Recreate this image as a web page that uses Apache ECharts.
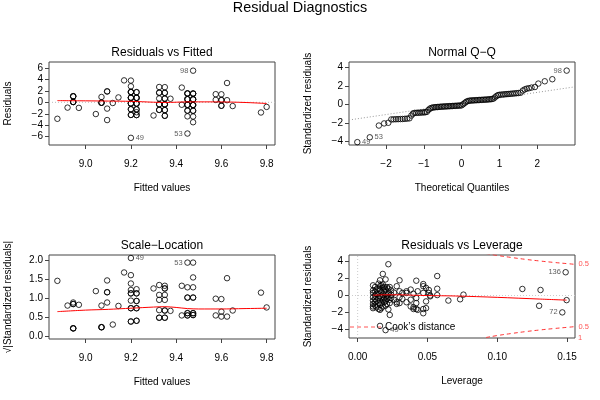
<!DOCTYPE html>
<html><head><meta charset="utf-8">
<script src="https://cdn.jsdelivr.net/npm/echarts@6/dist/echarts.min.js"></script>
<style>html,body{margin:0;padding:0;background:#fff}#c{width:600px;height:400px}</style>
</head><body><div id="c"></div>
<script>
// ---------- Panel 1: Residuals vs Fitted ----------
const rvfLevels = [8.875, 8.92, 8.945, 8.97, 9.045, 9.07, 9.095, 9.12, 9.145, 9.17, 9.2, 9.225, 9.3, 9.325, 9.35, 9.375, 9.425, 9.45, 9.475, 9.575, 9.6, 9.625, 9.65, 9.775, 9.8];
const rvfResid = [
  [-2.875], [-0.92], [1.055,1.055,1.055,0.055,0.055,0.055], [-0.97], [-2.045],
  [0.93,-0.07,-0.07,-0.07], [1.905,1.905,-1.095,-3.095], [-0.12], [0.855], [3.83],
  [3.8,2.8,1.8,1.8,1.8,0.8,0.8,0.8,-0.2,-0.2,-0.2,-1.2,-1.2,-2.2,-2.2,-6.2],
  [1.775,1.775,0.775,0.775,0.775,-0.225,-0.225,-0.225,-1.225,-1.225,-1.725,-2.225,-2.225],
  [-2.3], [2.675,1.675,1.675,0.675,-0.325,-0.325,-1.325,-1.325],
  [2.65,1.65,1.65,0.65,0.65,-0.35,-0.35,-0.35,-1.35,-1.35,-2.35,-2.35],
  [0.625], [2.575,-0.425],
  [1.55,1.55,1.55,0.55,0.55,0.55,-0.45,-0.45,-0.45,-1.45,-1.45,-2.45,-5.45],
  [5.525,1.525,1.525,1.525,0.525,0.525,0.525,-0.475,-0.475,-0.475,-1.475,-1.475,-2.475,-3.475],
  [1.425,0.425], [1.4,0.4,0.4,-0.6,-0.6], [3.375,0.375], [-0.65], [-1.775], [-0.8]
];
const rvfIds = [['98',9.475,5.525,'left'],['49',9.2,-6.2,'right'],['53',9.45,-5.45,'left']];
const rvfSmoothX = [8.875, 9.0, 9.1, 9.2, 9.25, 9.3, 9.35, 9.4, 9.45, 9.5, 9.6, 9.7, 9.8];
const rvfSmoothY = [0.3, 0.26, 0.22, 0.17, 0.1, 0.02, -0.03, 0.02, 0.08, 0.08, 0.07, -0.02, -0.2];
const rvfXTicks = [9.0, 9.2, 9.4, 9.6, 9.8];
const rvfYTicks = [-6, -4, -2, 0, 2, 4, 6];

// ---------- Panel 2: Normal Q-Q ----------
const qqTheo = [-2.76,-2.43,-2.19,-2.05,-1.94,
  -1.86,-1.80,-1.74,-1.68,-1.62,-1.56,-1.50,-1.44,-1.38,-1.33,-1.29,
  -1.25,-1.20,-1.15,-1.10,-1.05,-1.00,-0.96,-0.92,-0.88,-0.84,-0.80,
  -0.76,-0.72,-0.68,-0.64,-0.60,-0.56,-0.52,-0.48,-0.44,-0.40,-0.36,-0.32,-0.28,-0.24,-0.20,-0.16,-0.12,-0.08,-0.04,0.00,
  0.04,0.08,0.12,0.16,
  0.20,0.24,0.28,0.32,0.36,0.40,0.44,0.48,0.52,0.56,0.60,0.64,0.68,0.72,0.76,0.80,0.84,
  0.88,0.92,0.96,
  1.00,1.05,1.10,1.15,1.20,1.25,1.30,1.35,1.40,1.45,1.50,1.56,
  1.62,1.67,1.72,1.78,1.85,1.94,2.03,2.20,2.40,2.78];
const qqSample = [-4.07,-3.55,-2.28,-2.05,-1.98,
  -1.62,-1.61,-1.60,-1.59,-1.58,-1.57,-1.55,-1.53,-1.50,-1.20,-1.00,
  -0.92,-0.91,-0.90,-0.89,-0.87,-0.86,-0.84,-0.80,-0.60,-0.45,-0.38,
  -0.33,-0.31,-0.29,-0.28,-0.27,-0.25,-0.24,-0.23,-0.22,-0.21,-0.20,-0.19,-0.18,-0.17,-0.16,-0.15,-0.14,-0.13,-0.12,-0.10,
  0.02,0.15,0.28,0.36,
  0.40,0.42,0.43,0.44,0.45,0.46,0.47,0.48,0.49,0.50,0.51,0.52,0.53,0.55,0.56,0.58,0.62,
  0.75,0.90,1.00,
  1.04,1.06,1.08,1.10,1.12,1.13,1.15,1.17,1.19,1.21,1.23,1.26,
  1.50,1.62,1.70,1.75,1.82,1.88,2.25,2.50,2.72,3.65];
const qqIds = [['49',-2.76,-4.07,'right'],['53',-2.43,-3.55,'right'],['98',2.78,3.65,'left']];
const qqLineX = [-2.98, 3.0];
const qqLineY = [-1.68, 1.9];
const qqXTicks = [-2, -1, 0, 1, 2];
const qqYTicks = [-4, -2, 0, 2, 4];

// ---------- Panel 3: Scale-Location ----------
const slLevels = rvfLevels;
const slValues = [
  [1.45], [0.8], [0.88,0.84,0.84,0.2,0.2,0.2], [0.82], [1.18],
  [0.8,0.23,0.23,0.23], [1.46,1.15,1.15,0.88], [0.3], [0.79], [1.67],
  [2.05,1.6,1.38,1.21,1.12,1.12,0.93,0.73,0.73,0.38,0.38],
  [1.23,1.12,1.12,0.92,0.92,0.73,0.73,0.4,0.4],
  [1.25], [1.34,1.08,0.95,0.68,0.48,0.48],
  [1.32,1.25,1.25,1.08,0.95,0.67,0.67,0.48,0.48],
  [0.66], [1.32,0.54],
  [1.93,1.28,1.01,1.01,0.6,0.6,0.54,0.54],
  [1.93,1.54,1.28,1.01,1.01,0.6,0.6,0.55,0.55],
  [0.98,0.54], [0.97,0.64,0.51], [1.52,0.51], [0.67], [1.14], [0.75]
];
const slIds = [['49',9.2,2.05,'right'],['53',9.45,1.93,'left']];
const slSmoothX = [8.875, 9.0, 9.1, 9.2, 9.3, 9.35, 9.4, 9.45, 9.5, 9.6, 9.7, 9.8];
const slSmoothY = [0.64, 0.68, 0.7, 0.73, 0.76, 0.77, 0.75, 0.72, 0.71, 0.71, 0.72, 0.73];
const slYTicks = [0, 0.5, 1.0, 1.5, 2.0];

// ---------- Panel 4: Residuals vs Leverage ----------
const levLevels = [0.011, 0.0125, 0.0135, 0.015, 0.016, 0.017, 0.018, 0.019, 0.020, 0.021, 0.022, 0.023, 0.024, 0.026, 0.028, 0.030, 0.032, 0.035, 0.038, 0.040, 0.042, 0.043, 0.047, 0.049, 0.051, 0.052, 0.057, 0.065, 0.0734, 0.0758, 0.118, 0.130, 0.131, 0.1466, 0.149, 0.1497];
const levStdRes = [
  [1.2,0.6,0.3,-0.2,-0.6,-1.0,-1.3,-1.5], [1.0,0.5,0.0,-0.4,-0.8,-1.2], [0.7,0.2,-0.6,-1.4],
  [1.4,0.8,0.2,-0.3,-0.9,-1.6], [1.8,1.1,0.6,-0.1,-0.6,-1.1,-1.7,-3.6], [1.2,0.4,-0.2,-0.9,-1.5],
  [2.55,1.3,0.9,0.1,-0.5,-1.3], [1.0,0.5,-0.3,-0.8], [1.9,0.7,0.2,-0.6,-1.2,-4.1],
  [1.0,0.0,-0.4,-1.0], [3.7,0.8,0.3,-0.2,-1.65], [1.0,-0.5,-0.9,-2.3], [0.6,0.1,-0.3],
  [0.35,-0.5], [1.1,-0.8,-1.0], [1.8,0.5,-0.2,-0.9], [0.3,-0.4], [0.5,0.3,-0.8],
  [0.7,-0.5,-1.3], [0.2,-1.4,-1.6], [1.75,-0.3,-0.9,-1.6], [0.5,-1.7], [1.35,1.1,0.3,-1.6,-2.1],
  [0.9,-0.7,-1.5], [0.65,0.3], [0.0,-0.1], [2.3,0.8,0.05], [-0.6], [-0.45], [0.1],
  [0.77], [-1.22], [0.65], [-2.0], [2.75], [-0.55]
];
const levIds = [['49',0.020,-4.1,'right'],['136',0.149,2.75,'left'],['72',0.1466,-2.0,'left']];
const levSmoothX = [0.011, 0.02, 0.03, 0.04, 0.05, 0.07, 0.1, 0.13, 0.1497];
const levSmoothY = [0.03, 0.08, 0.08, 0.03, -0.01, -0.06, -0.22, -0.42, -0.55];
const cookX = [0.092, 0.1, 0.11, 0.12, 0.13, 0.14, 0.15, 0.156];
const cookUpper = [4.97, 4.74, 4.5, 4.28, 4.09, 3.92, 3.77, 3.68];
const cookLower = [-4.97, -4.74, -4.5, -4.28, -4.09, -3.92, -3.77, -3.68];
const levXTicks = [0, 0.05, 0.10, 0.15];
const levYTicks = [-4, -2, 0, 2, 4];

// axis ranges
const rFitted = [8.838, 9.837], rResid = [-7.45, 7.04];
const rTheo = [-2.98, 3.0], rQQ = [-4.38, 4.58];
const rSL = [-0.08, 2.13];
const rLev = [-0.0062, 0.1557], rLevY = [-5.03, 4.79];

const FONT = '"Liberation Sans", Arial, Helvetica, sans-serif';
function fmt(v, d) { const s = Math.abs(v).toFixed(d); return v < -1e-9 ? '\u2212' + s : s; }
function pairs(levels, groups) { const out = []; levels.forEach((x, i) => groups[i].forEach(y => out.push([x, y]))); return out; }
function zip(xs, ys) { return xs.map((x, i) => [x, ys[i]]); }
function withIds(pts, ids) {
  return pts.map(p => {
    const id = ids.find(d => d[1] === p[0] && d[2] === p[1]);
    return id ? { value: p, label: { show: true, formatter: id[0], position: id[3], distance: 1.5,
      fontSize: 7.5, color: '#333', fontFamily: FONT } } : p;
  });
}
function xAx(gi, r, ticks, dec, name) {
  return { type: 'value', gridIndex: gi, min: r[0], max: r[1], name: name, nameLocation: 'middle', nameGap: 38.5,
    nameTextStyle: { fontFamily: FONT, fontSize: 10, color: '#000' },
    axisLine: { show: false, onZero: false }, splitLine: { show: false },
    axisTick: { show: true, length: 4, customValues: ticks, lineStyle: { color: '#444' } },
    axisLabel: { show: true, customValues: ticks, formatter: v => fmt(v, dec), margin: 14.5,
      fontFamily: FONT, fontSize: 10, color: '#000' } };
}
function yAx(gi, r, ticks, dec, name) {
  return { type: 'value', gridIndex: gi, min: r[0], max: r[1], name: name, nameLocation: 'middle', nameGap: 36,
    nameTextStyle: { fontFamily: FONT, fontSize: 10, color: '#000' },
    axisLine: { show: false, onZero: false }, splitLine: { show: false },
    axisTick: { show: true, length: 4, customValues: ticks, lineStyle: { color: '#444' } },
    axisLabel: { show: true, customValues: ticks, formatter: v => fmt(v, dec), margin: 6,
      fontFamily: FONT, fontSize: 10, color: '#000' } };
}
const ptStyle = { color: 'rgba(255,255,255,0)', borderColor: '#000', borderWidth: 1 };
function scatter(i, data) {
  return { type: 'scatter', xAxisIndex: i, yAxisIndex: i, data: data, symbol: 'circle', symbolSize: 5.5,
    itemStyle: ptStyle, z: 3, silent: true, labelLayout: { hideOverlap: false } };
}
function line(i, data, color, type, z, extra) {
  return Object.assign({ type: 'line', xAxisIndex: i, yAxisIndex: i, data: data, showSymbol: false, symbol: 'none',
    smooth: false, lineStyle: { color: color, width: 1, type: type }, z: z, silent: true }, extra || {});
}
const gridBase = { show: true, borderColor: '#444', borderWidth: 1, backgroundColor: 'transparent', containLabel: false, outerBoundsMode: 'none' };

const option = {
  animation: false,
  backgroundColor: '#fff',
  grid: [
    Object.assign({ left: 49, top: 62, width: 226, height: 83 }, gridBase),
    Object.assign({ left: 349, top: 62, width: 226, height: 83 }, gridBase),
    Object.assign({ left: 49, top: 255, width: 226, height: 84 }, gridBase),
    Object.assign({ left: 349, top: 255, width: 226, height: 83 }, gridBase)
  ],
  xAxis: [
    xAx(0, rFitted, rvfXTicks, 1, 'Fitted values'),
    xAx(1, rTheo, qqXTicks, 0, 'Theoretical Quantiles'),
    xAx(2, rFitted, rvfXTicks, 1, 'Fitted values'),
    xAx(3, rLev, levXTicks, 2, 'Leverage')
  ],
  yAxis: [
    yAx(0, rResid, rvfYTicks, 0, 'Residuals'),
    yAx(1, rQQ, qqYTicks, 0, 'Standardized residuals'),
    yAx(2, rSL, slYTicks, 1, '\u221A|Standardized residuals|'),
    yAx(3, rLevY, levYTicks, 0, 'Standardized residuals')
  ],
  series: [
    line(0, [[rFitted[0], 0], [rFitted[1], 0]], '#bbb', [1, 2], 1),
    scatter(0, withIds(pairs(rvfLevels, rvfResid), rvfIds)),
    line(0, zip(rvfSmoothX, rvfSmoothY), '#ff0000', 'solid', 5, { smooth: 0.3 }),

    line(1, zip(qqLineX, qqLineY), '#999', [1, 2], 1),
    scatter(1, withIds(zip(qqTheo, qqSample), qqIds)),

    scatter(2, withIds(pairs(slLevels, slValues), slIds)),
    line(2, zip(slSmoothX, slSmoothY), '#ff0000', 'solid', 5, { smooth: 0.3 }),

    line(3, [[rLev[0], 0], [rLev[1], 0]], '#ccc', [1, 2], 1),
    line(3, [[0, rLevY[0]], [0, rLevY[1]]], '#ccc', [1, 2], 1),
    scatter(3, withIds(pairs(levLevels, levStdRes), levIds)),
    line(3, zip(levSmoothX, levSmoothY), '#ff0000', 'solid', 5, { smooth: 0.3 }),
    line(3, zip(cookX, cookUpper), '#ff3333', [4, 3], 4, { smooth: true,
      endLabel: { show: true, formatter: '0.5', color: '#ff5555', fontSize: 7.5, fontFamily: FONT, distance: 3 } }),
    line(3, zip(cookX, cookLower), '#ff3333', [4, 3], 4, { smooth: true,
      endLabel: { show: true, formatter: '0.5', color: '#ff5555', fontSize: 7.5, fontFamily: FONT, distance: 3 } })
  ],
  graphic: [
    { type: 'text', x: 300, y: 8, style: { text: 'Residual Diagnostics', font: '14.4px ' + FONT, fill: '#000', align: 'center', verticalAlign: 'middle' } },
    { type: 'text', x: 162, y: 53, style: { text: 'Residuals vs Fitted', font: '12px ' + FONT, fill: '#000', align: 'center', verticalAlign: 'middle' } },
    { type: 'text', x: 462, y: 53, style: { text: 'Normal Q\u2212Q', font: '12px ' + FONT, fill: '#000', align: 'center', verticalAlign: 'middle' } },
    { type: 'text', x: 162, y: 246, style: { text: 'Scale\u2212Location', font: '12px ' + FONT, fill: '#000', align: 'center', verticalAlign: 'middle' } },
    { type: 'text', x: 462, y: 246, style: { text: 'Residuals vs Leverage', font: '12px ' + FONT, fill: '#000', align: 'center', verticalAlign: 'middle' } },
    { type: 'line', shape: { x1: 350, y1: 327, x2: 381, y2: 327 }, style: { stroke: '#ff5555', lineWidth: 1, lineDash: [4, 3] }, z: 10 },
    { type: 'text', x: 385, y: 327, style: { text: 'Cook\u2019s distance', font: '10px ' + FONT, fill: '#000', align: 'left', verticalAlign: 'middle' }, z: 10 },
    { type: 'text', x: 578, y: 338, style: { text: '1', font: '7.5px ' + FONT, fill: '#ff5555', align: 'left', verticalAlign: 'middle' } }
  ]
};
const chart = echarts.init(document.getElementById('c'), null, { renderer: 'canvas' });
chart.setOption(option);
</script></body></html>
